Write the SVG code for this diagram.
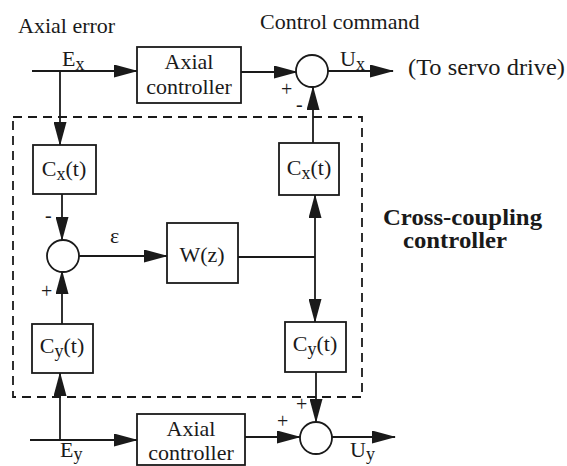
<svg xmlns="http://www.w3.org/2000/svg" width="567" height="466" viewBox="0 0 567 466" font-family="'Liberation Serif', 'Times New Roman', 'DejaVu Serif', serif">
<style>
.box{fill:#fff;stroke:#1a1a1a;stroke-width:1.8}
.sum{fill:#fff;stroke:#1a1a1a;stroke-width:1.8}
.ln{fill:none;stroke:#1a1a1a;stroke-width:1.8}
.arr{marker-end:url(#ah)}
.dash{fill:none;stroke:#1a1a1a;stroke-width:1.8;stroke-dasharray:9,6}
text{font-family:"Liberation Serif","Times New Roman","DejaVu Serif",serif;fill:#1a1a1a;font-size:22px}
.c{text-anchor:middle}
.sub{font-size:18px}
.bold{font-weight:bold;font-size:23px}
.sign{font-size:20px}
.big{font-size:24px}
</style>
<defs>
<marker id="ah" markerUnits="userSpaceOnUse" markerWidth="24" markerHeight="13" viewBox="0 0 24 13" refX="23" refY="6.5" orient="auto">
<path d="M0,0 L24,6.5 L0,13 z" fill="#1a1a1a"/>
</marker>
</defs>
<rect id="cross-coupling-region" class="dash" x="13" y="117" width="349" height="280"/>
<g id="labels">
<text x="18" y="33">Axial error</text>
<text x="260" y="29">Control command</text>
<text x="408" y="75" class="big" textLength="157" lengthAdjust="spacingAndGlyphs">(To servo drive)</text>
<text x="383" y="225" class="bold" textLength="159" lengthAdjust="spacingAndGlyphs">Cross-coupling</text>
<text x="403" y="248" class="bold" textLength="104" lengthAdjust="spacingAndGlyphs">controller</text>
<text x="62" y="66">E<tspan class="sub" dy="4">x</tspan></text>
<text x="340" y="66">U<tspan class="sub" dy="4">x</tspan></text>
<text x="110" y="243">ε</text>
<text x="60" y="457">E<tspan class="sub" dy="3">y</tspan></text>
<text x="350" y="457">U<tspan class="sub" dy="3">y</tspan></text>
<text x="281" y="96" class="sign">+</text>
<text x="296" y="111" class="sign">-</text>
<text x="45" y="222" class="sign">-</text>
<text x="41" y="298" class="sign">+</text>
<text x="296" y="411" class="sign">+</text>
<text x="277" y="428" class="sign">+</text>
</g>
<g id="connectors">
<path class="ln arr" d="M32,71 H137"/>
<path class="ln arr" d="M60,71 V145"/>
<path class="ln arr" d="M241,72 H297"/>
<path class="ln arr" d="M328,71 H393"/>
<path class="ln arr" d="M313,143 V87"/>
<path class="ln arr" d="M62,194 V240"/>
<path class="ln arr" d="M79,256 H167"/>
<path class="ln" d="M238,257 H315"/>
<path class="ln arr" d="M315,257 V195"/>
<path class="ln arr" d="M315,257 V322"/>
<path class="ln arr" d="M30,440 H137"/>
<path class="ln arr" d="M60,440 V373"/>
<path class="ln arr" d="M62,324 V271"/>
<path class="ln arr" d="M316,372 V422"/>
<path class="ln arr" d="M245,437 H300"/>
<path class="ln arr" d="M332,437 H395"/>
</g>
<g id="axial-controller-x">
<rect class="box" x="137" y="47" width="104" height="56"/>
<text class="c" x="189" y="69">Axial</text>
<text class="c" x="189" y="94">controller</text>
</g>
<g id="sum-x"><circle class="sum" cx="312" cy="71" r="16"/></g>
<g id="cx-left">
<rect class="box" x="33" y="145" width="63" height="49"/>
<text class="c" x="64" y="176">C<tspan class="sub" dy="4">x</tspan><tspan dy="-4">(t)</tspan></text>
</g>
<g id="cx-right">
<rect class="box" x="279" y="143" width="60" height="52"/>
<text class="c" x="309" y="175">C<tspan class="sub" dy="4">x</tspan><tspan dy="-4">(t)</tspan></text>
</g>
<g id="sum-eps"><circle class="sum" cx="63" cy="256" r="16"/></g>
<g id="wz">
<rect class="box" x="167" y="223" width="71" height="60"/>
<text class="c" x="202" y="262">W(z)</text>
</g>
<g id="cy-left">
<rect class="box" x="32" y="324" width="61" height="49"/>
<text class="c" x="62" y="353">C<tspan class="sub" dy="4">y</tspan><tspan dy="-4">(t)</tspan></text>
</g>
<g id="cy-right">
<rect class="box" x="285" y="322" width="61" height="50"/>
<text class="c" x="315" y="351">C<tspan class="sub" dy="4">y</tspan><tspan dy="-4">(t)</tspan></text>
</g>
<g id="axial-controller-y">
<rect class="box" x="137" y="414" width="108" height="51"/>
<text class="c" x="191" y="436">Axial</text>
<text class="c" x="191" y="460">controller</text>
</g>
<g id="sum-y"><circle class="sum" cx="316" cy="438" r="16"/></g>
</svg>
